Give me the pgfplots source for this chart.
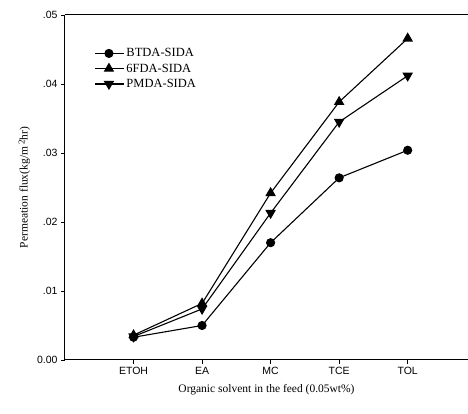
\documentclass[border=0pt]{standalone}
\usepackage{pgfplots}
\pgfplotsset{compat=1.18}
\usepackage{fontspec}
\setmainfont{Liberation Serif}
\newfontfamily\arialfont{Liberation Sans}

\begin{document}
\begin{tikzpicture}
\begin{axis}[
    scale only axis,
    width=403pt,
    height=345pt,
    xmin=-1, xmax=4.88,
    ymin=0, ymax=0.05,
    axis lines*=left,
    axis line style={line width=1pt},
    xtick={0,1,2,3,4},
    xticklabels={ETOH,EA,MC,TCE,TOL},
    ytick={0,0.01,0.02,0.03,0.04,0.05},
    yticklabels={0.00,.01,.02,.03,.04,.05},
    scaled y ticks=false,
    tick style={black, line width=0.8pt},
    tick align=outside,
    major tick length=4pt,
    ticklabel style={font=\arialfont\fontsize{10.5}{12}\selectfont},
    xlabel={Organic solvent in the feed (0.05wt\%)},
    ylabel={Permeation flux(kg/m\,\raisebox{0.6ex}{\small 2}hr)},
    label style={font=\fontsize{11.5}{13}\selectfont},
    xlabel style={yshift=-3pt},
    every axis plot/.append style={black, line width=1.1pt},
    legend style={draw=none, fill=none, at={(axis description cs:0.065,0.915)}, anchor=north west,
        font=\fontsize{12.5}{14}\selectfont, row sep=1.5pt},
    legend cell align=left,
    legend image code/.code={
        \draw[mark repeat=2,mark phase=2,#1] plot coordinates {(0pt,0pt) (14pt,0pt) (29pt,0pt)};
    },
    legend image post style={line width=1.1pt},
    clip=false,
]
\addplot[mark=*, mark size=4pt] coordinates {
    (0,0.0033) (1,0.0050) (2,0.0170) (3,0.0264) (4,0.0304)
};
\addlegendentry{BTDA-SIDA}
\addplot[mark=triangle*, mark size=5pt] coordinates {
    (0,0.0036) (1,0.0082) (2,0.0242) (3,0.0374) (4,0.0466)
};
\addlegendentry{6FDA-SIDA}
\addplot[mark=triangle*, mark size=5pt, mark options={rotate=180}] coordinates {
    (0,0.0034) (1,0.0074) (2,0.0213) (3,0.0345) (4,0.0412)
};
\addlegendentry{PMDA-SIDA}
\draw[line width=1pt] (rel axis cs:0,1) -- (rel axis cs:1,1);
\end{axis}
\pgfresetboundingbox
\path[use as bounding box] (-65pt,-54pt) rectangle (403pt,360pt);
\end{tikzpicture}
\end{document}
